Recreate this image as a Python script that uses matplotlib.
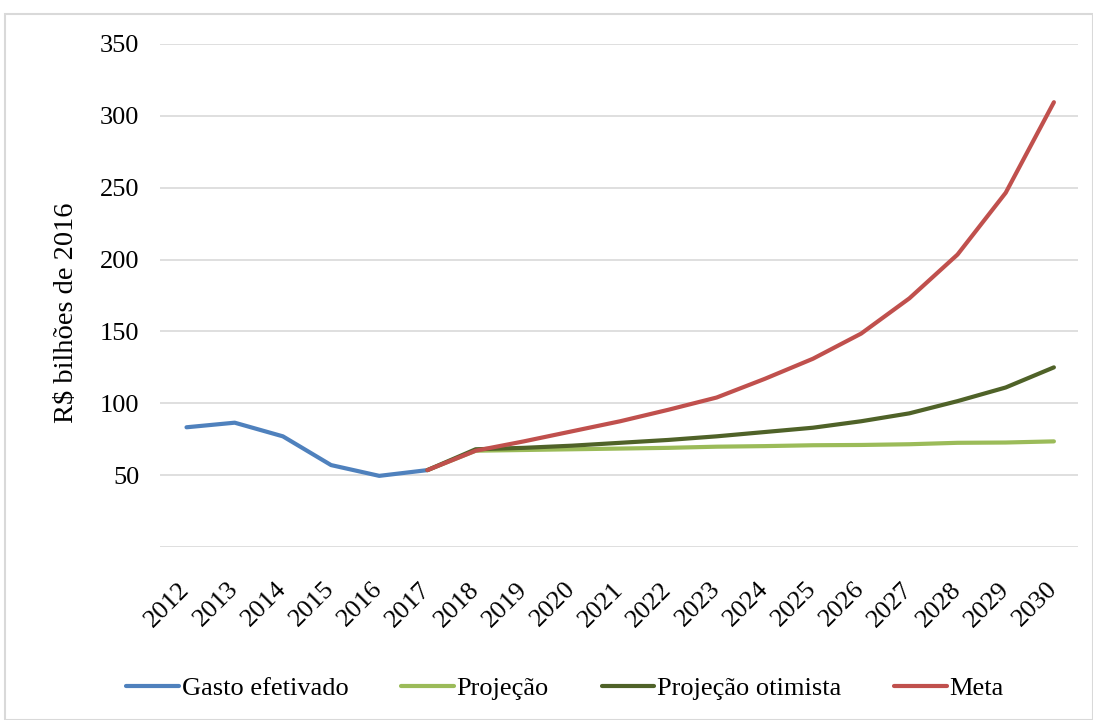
import matplotlib.pyplot as plt
from matplotlib.patches import Rectangle

# Data
years = [str(y) for y in range(2012, 2031)]
gasto = [83.3, 86.5, 77.0, 57.0, 49.5, 53.5]
projecao = [53.5, 67.0, 67.5, 68.0, 68.5, 69.0, 69.8, 70.2, 70.8, 71.0, 71.5, 72.5, 72.7, 73.5]
otimista = [53.5, 68.0, 69.0, 70.5, 72.5, 74.5, 77.0, 80.0, 83.0, 87.5, 93.0, 101.5, 111.0, 125.0]
meta = [53.5, 67.0, 73.5, 80.5, 87.5, 95.5, 104.0, 117.0, 131.0, 148.5, 173.0, 203.5, 246.5, 309.5]
yticks = [50, 100, 150, 200, 250, 300, 350]

plt.rcParams['font.family'] = ['Liberation Serif', 'DejaVu Serif']
fs = 19

fig = plt.figure(figsize=(10.93, 7.2), dpi=100)
ax = fig.add_axes([160 / 1093, 1 - 547 / 720, (1078 - 160) / 1093, (547 - 44) / 720])

x_gasto = list(range(0, len(gasto)))
x_proj = list(range(5, 5 + len(projecao)))

lw = 3.0
ax.plot(x_gasto, gasto, color='#4F81BD', lw=lw, label='Gasto efetivado', solid_capstyle='round')
ax.plot(x_proj, projecao, color='#9BBB59', lw=lw, label='Projeção', solid_capstyle='round')
ax.plot(x_proj, otimista, color='#4F6228', lw=lw, label='Projeção otimista', solid_capstyle='round')
ax.plot(x_proj, meta, color='#C0504D', lw=lw, label='Meta', solid_capstyle='round')

ax.set_xlim(-0.55, 18.5)
ax.set_ylim(0, 350)
ax.set_yticks(yticks)
ax.set_yticklabels([str(v) for v in yticks], fontsize=fs)
ax.set_xticks(range(len(years)))
ax.set_xticklabels(years, rotation=45, ha='right', va='center', rotation_mode='anchor', fontsize=fs)
ax.tick_params(axis='both', length=0)
ax.tick_params(axis='y', pad=15)
ax.tick_params(axis='x', pad=28)

for v in [0] + yticks:
    ax.axhline(v, color='#D9D9D9', lw=1.2, zorder=0)
for s in ax.spines.values():
    s.set_visible(False)

ax.set_ylabel('R$ bilhões de 2016', fontsize=fs + 1.5)
ax.yaxis.set_label_coords(-0.088, 0.465)

fig.legend(loc='center', bbox_to_anchor=(565 / 1093, 1 - 688 / 720), ncol=4, frameon=False,
           fontsize=fs, handlelength=2.0, columnspacing=2.0, handletextpad=0.1)

# light border around the chart
fig.patches.append(Rectangle((5 / 1093, 0), 1 - 5 / 1093, 1 - 14 / 720, transform=fig.transFigure,
                             fill=False, edgecolor='#D9D9D9', lw=1.5))

fig.savefig('out.png', dpi=100)
